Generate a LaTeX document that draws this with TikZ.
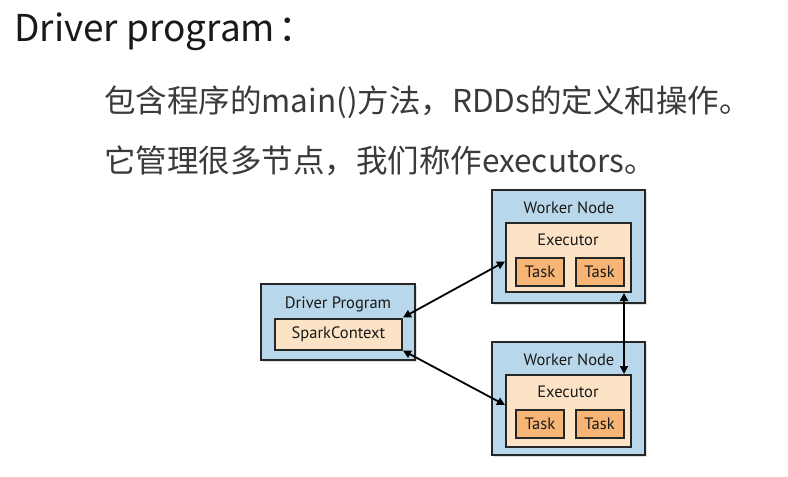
\documentclass[tikz,border=0pt]{standalone}
\usepackage{fontspec}
\setmainfont{Noto Sans CJK SC}
\newfontfamily\diagfont{PT Sans}
\usetikzlibrary{arrows.meta,shadows}

\definecolor{nodeblue}{HTML}{B9D7EA}
\definecolor{execpeach}{HTML}{FDE3C6}
\definecolor{taskorange}{HTML}{F6B475}
\definecolor{bodygray}{HTML}{3A3A3A}

\tikzset{
  outerbox/.style={draw=black!85, line width=2.4pt, fill=nodeblue,
    drop shadow={shadow xshift=2pt, shadow yshift=-2pt, opacity=0.25}},
  execbox/.style={draw=black!85, line width=2pt, fill=execpeach},
  taskbox/.style={draw=black!85, line width=2pt, fill=taskorange,
    minimum width=48pt, minimum height=28pt, lbl},
  lbl/.style={font=\diagfont\fontsize{16.5}{16.5}\selectfont, text=black!90},
  link/.style={line width=1.8pt, {Triangle[length=8pt,width=8pt]}-{Triangle[length=8pt,width=8pt]}}
}

\begin{document}
\begin{tikzpicture}[x=1pt,y=-1pt]
  \useasboundingbox[fill=white] (0,0) rectangle (788,477);

  % text
  \node[anchor=base west, inner sep=0pt, text=black!90] (title) at (14,41)
    {\fontsize{37}{37}\selectfont Driver program\kern3pt：};
  \node[anchor=base west, inner sep=0pt, text=bodygray] (line1) at (104,112)
    {\fontsize{31.5}{31.5}\selectfont 包含程序的main()方法，RDDs的定义和操作。};
  \node[anchor=base west, inner sep=0pt, text=bodygray] (line2) at (104,172)
    {\fontsize{31.5}{31.5}\selectfont 它管理很多节点，我们称作executors。};

  % driver
  \node[outerbox, minimum width=154pt, minimum height=76pt] (driver) at (338,322) {};
  \node[lbl] (drvlbl) at (338,304) {Driver Program};
  \node[execbox, minimum width=127pt, minimum height=31pt, lbl] (sc) at (338.5,334) {SparkContext};

  % worker 1
  \node[outerbox, minimum width=153pt, minimum height=113pt] (w1) at (568.5,246.5) {};
  \node[lbl] (w1lbl) at (569,208) {Worker Node};
  \node[execbox, minimum width=125pt, minimum height=69pt] (ex1) at (568.5,257.5) {};
  \node[lbl] (ex1lbl) at (568,240) {Executor};
  \node[taskbox] (t11) at (540,272) {Task};
  \node[taskbox] (t12) at (599.5,272) {Task};

  % worker 2
  \node[outerbox, minimum width=153pt, minimum height=113pt] (w2) at (568.5,398.5) {};
  \node[lbl] (w2lbl) at (569,360) {Worker Node};
  \node[execbox, minimum width=125pt, minimum height=72pt] (ex2) at (568.5,411) {};
  \node[lbl] (ex2lbl) at (568,392) {Executor};
  \node[taskbox] (t21) at (540,424) {Task};
  \node[taskbox] (t22) at (599.5,424) {Task};

  % links
  \draw[link] (sc.north east) -- ([yshift=-4pt]ex1.west);
  \draw[link] (sc.south east) -- ([yshift=6pt]ex2.west);
  \draw[link] ([xshift=-8pt]ex1.south east) -- ([xshift=-8pt]ex2.north east);
\end{tikzpicture}
\end{document}
